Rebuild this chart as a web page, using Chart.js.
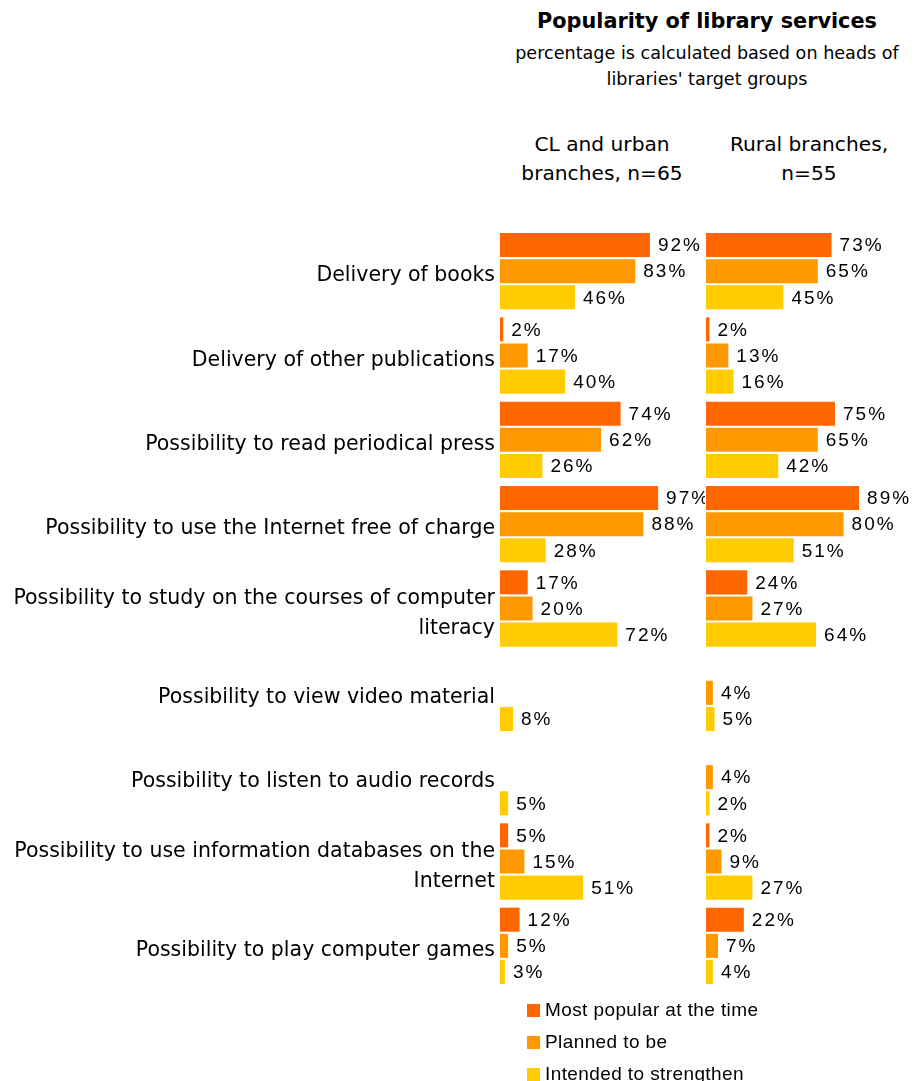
<!DOCTYPE html>
<html>
<head>
<meta charset="utf-8">
<script src="https://cdn.jsdelivr.net/npm/chart.js@4.4.1/dist/chart.umd.min.js"></script>
<style>
    body { margin: 0; background: #fff; width: 915px; height: 1081px; overflow: hidden; position: relative; }
    .txt { position: absolute; font-family: 'DejaVu Sans', Verdana, sans-serif; color: #000; text-align: center; white-space: nowrap; }
    #title { left: 500px; width: 414px; top: 9px; font-size: 20.8px; font-weight: bold; }
    #subtitle { left: 500px; width: 414px; top: 40px; font-size: 17.6px; line-height: 26px; }
    .panel { top: 130px; font-size: 20.2px; line-height: 29px; }
    #panelCl { left: 502px; width: 200px; }
    #panelRural { left: 709px; width: 200px; }
    .box { position: absolute; }
    #clBox { left: 0; top: 0; width: 705px; height: 1081px; }
    #ruralBox { left: 700px; top: 0; width: 215px; height: 1081px; }
    #legend { position: absolute; left: 527px; top: 994px; font-family: 'Liberation Sans', Arial, sans-serif; font-size: 19px; letter-spacing: 0.4px; }
    #legend div { height: 32px; display: flex; align-items: center; }
    #legend span { display: inline-block; width: 13px; height: 13px; margin-right: 5px; }
</style>
</head>
<body>
<div class="txt" id="title">Popularity of library services</div>
<div class="txt" id="subtitle">percentage is calculated based on heads of<br>libraries' target groups</div>
<div class="txt panel" id="panelCl">CL and urban<br>branches, n=65</div>
<div class="txt panel" id="panelRural">Rural branches,<br>n=55</div>
<div class="box" id="clBox"><canvas id="clChart"></canvas></div>
<div class="box" id="ruralBox"><canvas id="ruralChart"></canvas></div>
<div id="legend"></div>

<script>
const categories = [
    'Delivery of books',
    'Delivery of other publications',
    'Possibility to read periodical press',
    'Possibility to use the Internet free of charge',
    ['Possibility to study on the courses of computer', 'literacy'],
    'Possibility to view video material',
    'Possibility to listen to audio records',
    ['Possibility to use information databases on the', 'Internet'],
    'Possibility to play computer games'
];

const seriesNames = ['Most popular at the time', 'Planned to be', 'Intended to strengthen'];
const seriesColors = ['#FF6600', '#FF9900', '#FFCC00'];

// CL and urban branches, n=65
const clPopular = [92, 2, 74, 97, 17, null, null, 5, 12];
const clPlanned = [83, 17, 62, 88, 20, null, null, 15, 5];
const clIntended = [46, 40, 26, 28, 72, 8, 5, 51, 3];

// Rural branches, n=55
const ruralPopular = [73, 2, 75, 89, 24, null, null, 2, 22];
const ruralPlanned = [65, 13, 65, 80, 27, 4, 4, 9, 7];
const ruralIntended = [45, 16, 42, 51, 64, 5, 2, 27, 4];

// percent labels just past the end of each bar
const valueLabels = {
    id: 'valueLabels',
    afterDatasetsDraw(chart) {
        const ctx = chart.ctx;
        ctx.save();
        ctx.font = '19px "Liberation Sans", Arial, sans-serif';
        ctx.letterSpacing = '2px';
        ctx.fillStyle = '#000';
        ctx.textAlign = 'left';
        ctx.textBaseline = 'middle';
        chart.data.datasets.forEach((ds, i) => {
            const meta = chart.getDatasetMeta(i);
            meta.data.forEach((bar, j) => {
                const v = ds.data[j];
                if (v === null || v === undefined) return;
                ctx.fillText(v + '%', bar.x + 8, bar.y + 1);
            });
        });
        ctx.restore();
    }
};

function makeDatasets(values) {
    return values.map((data, i) => ({
        label: seriesNames[i],
        data: data,
        backgroundColor: seriesColors[i],
        borderWidth: 0,
        categoryPercentage: 0.93,
        barPercentage: 0.92
    }));
}

function initPanel(id, values, showLabels, padding) {
    const ctx = document.getElementById(id);
    return new Chart(ctx, {
        type: 'bar',
        data: {
            labels: categories,
            datasets: makeDatasets(values)
        },
        options: {
            indexAxis: 'y',
            responsive: true,
            maintainAspectRatio: false,
            animation: false,
            layout: { padding: padding },
            plugins: {
                legend: { display: false },
                tooltip: { enabled: false }
            },
            scales: {
                x: {
                    display: false,
                    min: 0,
                    max: 100
                },
                y: {
                    display: showLabels,
                    grid: { display: false, drawTicks: false },
                    border: { display: false },
                    afterFit: scale => { scale.width = showLabels ? 500 : 0; },
                    ticks: {
                        autoSkip: false,
                        padding: 5,
                        labelOffset: 5,
                        color: '#000',
                        font: { family: '"DejaVu Sans", Verdana, sans-serif', size: 20.5, lineHeight: 1.45 }
                    }
                }
            }
        },
        plugins: [valueLabels]
    });
}

const clChart = initPanel('clChart', [clPopular, clPlanned, clIntended], true,
    { left: 0, right: 42, top: 229, bottom: 93 });
initPanel('ruralChart', [ruralPopular, ruralPlanned, ruralIntended], false,
    { left: 6, right: 37, top: 229, bottom: 93 });

// legend built from the datasets
const legendEl = document.getElementById('legend');
clChart.data.datasets.forEach(ds => {
    const row = document.createElement('div');
    const sw = document.createElement('span');
    sw.style.background = ds.backgroundColor;
    row.appendChild(sw);
    row.appendChild(document.createTextNode(ds.label));
    legendEl.appendChild(row);
});
</script>
</body>
</html>
